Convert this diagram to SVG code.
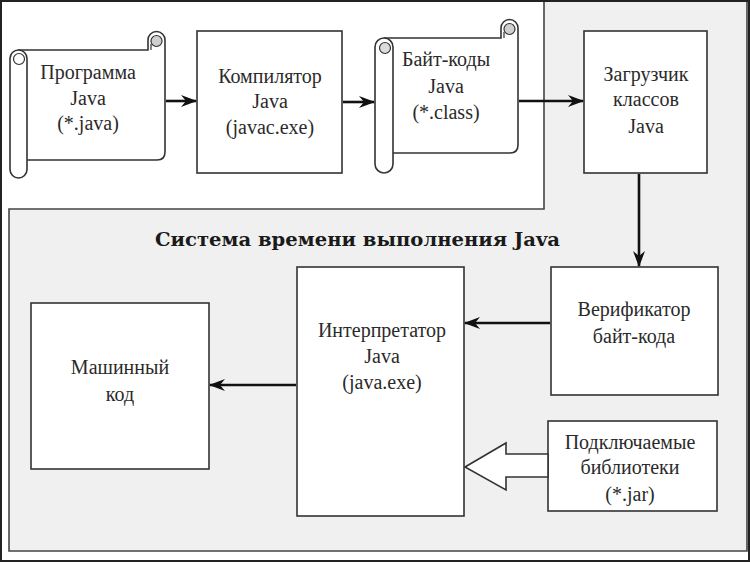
<svg xmlns="http://www.w3.org/2000/svg" width="750" height="562" viewBox="0 0 750 562">
<defs>
<style>
.box{fill:#ffffff;stroke:#333;stroke-width:1.6}
.t{font-family:'Liberation Serif','DejaVu Serif',serif;font-size:20px;fill:#2a2a2a;text-anchor:middle}
.ln{stroke:#111;stroke-width:2.6;fill:none}
.curl{fill:#cfcfcf;stroke:#333;stroke-width:1.2}
</style>
<marker id="ah" viewBox="0 0 16 12" markerWidth="16" markerHeight="12" refX="15" refY="6" orient="auto" markerUnits="userSpaceOnUse">
<path d="M0,0 L16,6 L0,12 L5,6 z" fill="#111"/>
</marker>
</defs>
<rect x="0" y="0" width="750" height="562" fill="#ffffff"/>
<g id="runtime-frame">
<path d="M9,209 L544,209 L544,1 L747,1 L747,551 L9,551 Z" fill="#f0f0f0" stroke="#444" stroke-width="1.6"/>
<text x="155" y="246" font-family="'DejaVu Serif','Liberation Serif',serif" font-size="18" font-weight="bold" fill="#1a1a1a" stroke="none" textLength="405" lengthAdjust="spacingAndGlyphs">Система времени выполнения Java</text>
</g>
<rect x="1" y="1" width="748" height="560" fill="none" stroke="#222" stroke-width="2"/>

<g id="program-java">
<path class="box" d="M18,50 L148,50 L148,40 A8.5,8.5 0 0 1 165,40 L165,152 Q165,160 157,160 L27,160"/>
<circle class="curl" cx="156.5" cy="41" r="5.5"/>
<path d="M151,50 L151,44" stroke="#333" stroke-width="1.2" fill="none"/>
<rect class="box" x="10" y="50" width="17" height="128" rx="8.5"/>
<circle cx="19" cy="59" r="5.5" fill="#fff" stroke="#333" stroke-width="1.2"/>
<text class="t" x="88" y="79">Программа</text>
<text class="t" x="88" y="105">Java</text>
<text class="t" x="88" y="130">(*.java)</text>
</g>

<g id="compiler">
<rect class="box" x="197" y="31" width="145" height="142"/>
<text class="t" x="270" y="83">Компилятор</text>
<text class="t" x="270" y="108">Java</text>
<text class="t" x="270" y="134">(javac.exe)</text>
</g>

<g id="bytecode">
<path class="box" d="M384,38 L501,38 L501,28 A8.5,8.5 0 0 1 518,28 L518,145 Q518,153 510,153 L393,153"/>
<circle class="curl" cx="509.5" cy="29" r="5.5"/>
<path d="M504,38 L504,32" stroke="#333" stroke-width="1.2" fill="none"/>
<rect class="box" x="375" y="38" width="18" height="135" rx="9"/>
<circle cx="385" cy="48" r="5.5" fill="#dcdcdc" stroke="#333" stroke-width="1.2"/>
<text class="t" x="446" y="66">Байт-коды</text>
<text class="t" x="446" y="93">Java</text>
<text class="t" x="446" y="119">(*.class)</text>
</g>

<g id="class-loader">
<rect class="box" x="584" y="31" width="123" height="142"/>
<text class="t" x="646" y="81">Загрузчик</text>
<text class="t" x="646" y="106">классов</text>
<text class="t" x="646" y="133">Java</text>
</g>

<g id="verifier">
<rect class="box" x="551" y="267" width="167" height="128"/>
<text class="t" x="634" y="316">Верификатор</text>
<text class="t" x="634" y="343">байт-кода</text>
</g>

<g id="interpreter">
<rect class="box" x="297" y="267" width="167" height="249"/>
<text class="t" x="382" y="337">Интерпретатор</text>
<text class="t" x="382" y="363">Java</text>
<text class="t" x="382" y="389">(java.exe)</text>
</g>

<g id="machine-code">
<rect class="box" x="31" y="303" width="178" height="166"/>
<text class="t" x="120" y="374">Машинный</text>
<text class="t" x="120" y="401">код</text>
</g>

<g id="libraries">
<rect class="box" x="548" y="421" width="169" height="90"/>
<text class="t" x="630" y="449">Подключаемые</text>
<text class="t" x="630" y="474">библиотеки</text>
<text class="t" x="630" y="501">(*.jar)</text>
</g>

<g id="connectors">
<line class="ln" x1="166" y1="101" x2="196" y2="101" marker-end="url(#ah)"/>
<line class="ln" x1="343" y1="102" x2="374" y2="102" marker-end="url(#ah)"/>
<line class="ln" x1="519" y1="101" x2="583" y2="101" marker-end="url(#ah)"/>
<line class="ln" x1="639" y1="174" x2="639" y2="266" marker-end="url(#ah)"/>
<line class="ln" x1="550" y1="323" x2="465" y2="323" marker-end="url(#ah)"/>
<line class="ln" x1="296" y1="385" x2="210" y2="385" marker-end="url(#ah)"/>
<polygon points="465,467 506,443 506,454 548,454 548,477 506,477 506,490" fill="#ffffff" stroke="#333" stroke-width="1.6"/>
</g>
</svg>
